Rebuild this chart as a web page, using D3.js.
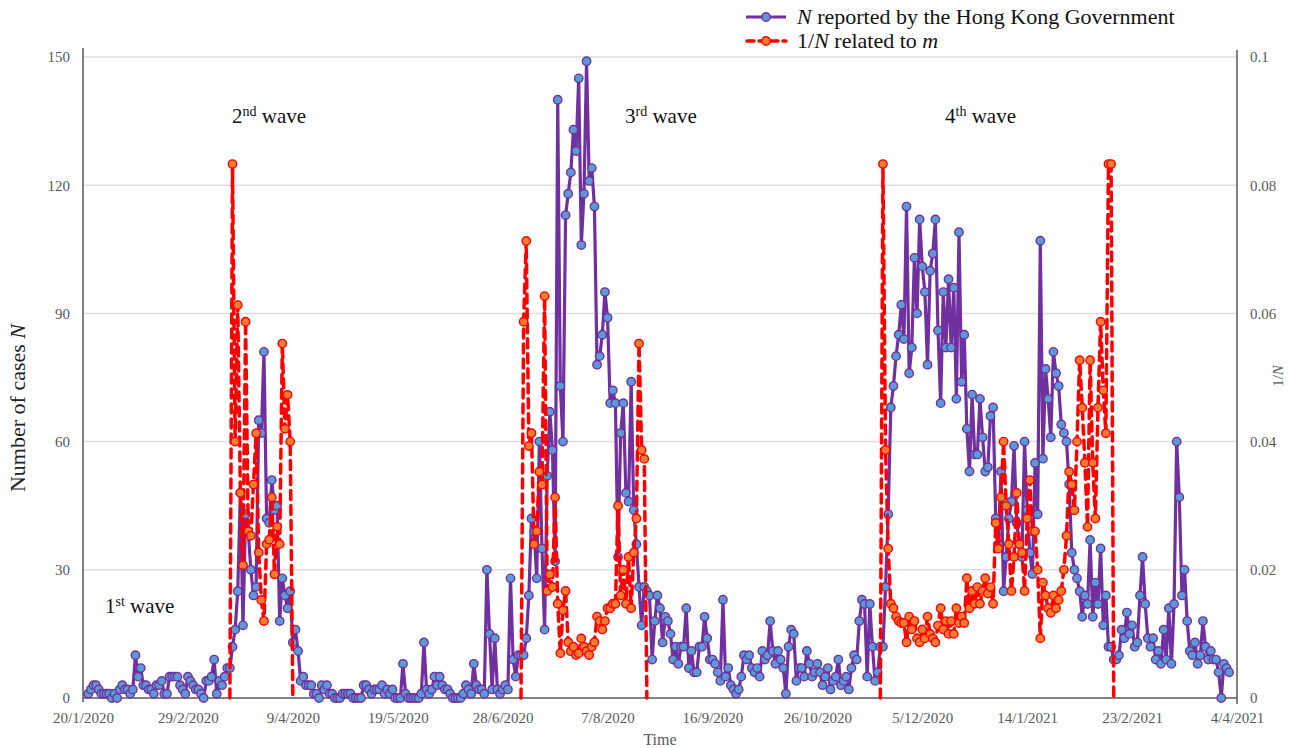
<!DOCTYPE html>
<html>
<head>
<meta charset="utf-8">
<script src="https://cdn.jsdelivr.net/npm/d3@7"></script>
<style>
  body { margin: 0; background: #fff; }
  svg { font-family: "Liberation Serif", "Times New Roman", serif; }
</style>
</head>
<body>
<svg id="chart" width="1293" height="748"></svg>
<script>
// daily cases N, first value is 22/1/2020
let casesStart = "22/1/2020"
let cases = [
  1,2,3,3,2,1,1,1,1,0,
  1,0,2,3,2,2,1,2,10,5,
  7,3,3,2,2,1,3,3,4,1,
  1,5,5,5,5,3,2,1,5,4,
  3,2,2,1,0,4,4,5,9,1,
  4,3,5,7,7,12,16,25,48,17,
  43,39,30,24,26,65,62,81,42,41,
  51,44,45,18,28,24,21,25,13,16,
  11,4,5,3,3,3,1,1,0,3,
  2,3,1,1,0,0,0,1,1,1,
  1,0,0,0,0,3,3,2,1,2,
  2,2,3,1,2,1,2,0,0,0,
  8,1,0,0,0,0,0,1,13,2,
  1,2,5,3,5,3,2,2,1,0,
  0,0,0,1,3,2,1,8,3,2,
  2,1,30,15,2,14,2,1,2,3,
  2,28,9,5,10,10,10,14,24,42,
  39,28,60,35,16,52,67,58,32,140,
  73,60,113,118,123,133,128,145,106,118,
  149,121,124,115,78,80,85,95,89,69,
  72,69,33,62,69,48,46,74,44,36,
  26,17,26,25,24,9,18,24,21,13,
  19,18,15,9,12,8,12,12,21,7,
  11,6,6,12,12,19,14,9,9,8,
  6,4,23,5,7,3,2,1,2,5,
  10,9,10,7,6,7,5,11,9,10,
  18,11,8,11,9,7,1,12,16,15,
  4,7,7,5,11,8,5,6,8,6,
  3,5,7,2,4,5,9,3,4,5,
  2,7,10,9,18,23,22,5,22,12,
  4,6,12,12,26,43,68,73,80,85,
  92,84,115,76,82,103,90,112,101,95,
  78,100,104,112,86,69,95,82,98,82,
  96,70,109,74,85,63,53,71,57,57,
  70,61,53,54,66,68,42,36,53,25,
  33,42,46,59,41,36,33,60,44,34,
  29,55,43,107,56,77,70,61,81,76,
  73,64,62,60,50,34,30,28,25,19,
  24,22,37,19,27,22,35,17,24,12,
  12,9,9,10,16,14,20,15,17,12,
  13,24,33,22,14,12,14,9,11,8,
  16,9,21,8,22,60,47,24,30,18,
  11,10,13,8,10,18,12,9,11,9,
  9,6,0,8,7,6
]

// 1/N related to m, one array per wave
let wave2Start = "16/3/2020"
let wave2Inv = [
  0,0.0833,0.04,0.0613,0.032,0.0207,0.0587,0.026,0.0253,0.0333,
  0.0413,0.0227,0.0153,0.012,0.024,0.0247,0.0313,0.0193,0.0267,0.024,
  0.0553,0.042,0.0473,0.04,0
]
let wave3Start = "5/7/2020"
let wave3Inv = [
  0,0.0587,0.0713,0.0393,0.0413,0.024,0.026,0.0353,0.0333,0.0627,
  0.0167,0.0193,0.0173,0.0313,0.0147,0.007,0.0137,0.0167,0.0087,0.0073,
  0.008,0.0067,0.007,0.0093,0.008,0.0073,0.0067,0.008,0.0087,0.0127,
  0.012,0.0107,0.012,0.014,0.014,0.0147,0.0147,0.03,0.016,0.02,
  0.0147,0.022,0.014,0.0227,0.028,0.0553,0.0387,0.0373,0
]
let wave4Start = "19/11/2020"
let wave4Inv = [
  0,0.0833,0.0387,0.0233,0.0147,0.014,0.0127,0.012,0.0117,0.0117,
  0.0087,0.0127,0.0107,0.012,0.0093,0.0087,0.0107,0.0093,0.0127,0.01,
  0.0093,0.0087,0.0113,0.014,0.0107,0.012,0.01,0.012,0.01,0.014,
  0.0117,0.0127,0.0117,0.0187,0.014,0.0167,0.0147,0.0173,0.0147,0.0167,
  0.0187,0.0163,0.0173,0.0147,0.0273,0.0233,0.0313,0.04,0.03,0.024,
  0.0167,0.022,0.032,0.024,0.0227,0.0167,0.028,0.034,0.026,0.026,
  0.02,0.0093,0.018,0.016,0.014,0.0133,0.016,0.014,0.0153,0.0167,
  0.02,0.0253,0.0353,0.0333,0.0293,0.04,0.0527,0.0453,0.0367,0.0267,
  0.0527,0.0367,0.028,0.0453,0.0587,0.048,0.0413,0.0833,0.0833,0
]

let leftTicks = [0, 30, 60, 90, 120, 150]
let rightTicks = [0, 0.02, 0.04, 0.06, 0.08, 0.1]
let dateTicks = ["20/1/2020","29/2/2020","9/4/2020","19/5/2020","28/6/2020","7/8/2020",
                 "16/9/2020","26/10/2020","5/12/2020","14/1/2021","23/2/2021","4/4/2021"]

let parse = d3.timeParse("%d/%m/%Y")

let toSeries = (start, values) => {
  let s = parse(start)
  return values.map((v, i) => ({ date: d3.timeDay.offset(s, i), v: v }))
}

let svg = d3.select('#chart')

let plotLeft = 83, plotRight = 1237, plotTop = 57, plotBottom = 698

let x = d3.scaleTime()
          .domain([parse(dateTicks[0]), parse(dateTicks[dateTicks.length - 1])])
          .range([plotLeft, plotRight])
let y = d3.scaleLinear().domain([0, 150]).range([plotBottom, plotTop])
let y2 = d3.scaleLinear().domain([0, 0.1]).range([plotBottom, plotTop])

// gridlines
svg.append('g')
   .selectAll('line')
   .data(leftTicks.filter(t => t > 0))
   .enter()
   .append('line')
   .attr('x1', plotLeft).attr('x2', plotRight)
   .attr('y1', d => y(d)).attr('y2', d => y(d))
   .attr('stroke', '#dedede').attr('stroke-width', 1.5)

// axes (labels only, lines drawn by hand below)
let styleAxis = (g) => {
  g.attr('font-family', null).attr('font-size', null)
  g.select('.domain').remove()
  g.selectAll('line').remove()
  g.selectAll('text')
   .attr('fill', '#595959')
   .style('font-size', '15px')
   .style('font-family', 'Liberation Serif')
}

svg.append('g')
   .attr('transform', 'translate(' + plotLeft + ',0)')
   .call(d3.axisLeft(y).tickValues(leftTicks).tickSize(0).tickPadding(13))
   .call(styleAxis)

svg.append('g')
   .attr('transform', 'translate(' + plotRight + ',0)')
   .call(d3.axisRight(y2).tickValues(rightTicks).tickSize(0).tickPadding(13)
           .tickFormat(d => d === 0 ? '0' : String(+d.toFixed(2))))
   .call(styleAxis)

svg.append('g')
   .attr('transform', 'translate(0,' + plotBottom + ')')
   .call(d3.axisBottom(x).tickValues(dateTicks.map(parse)).tickSize(0).tickPadding(14)
           .tickFormat(d3.timeFormat('%-d/%-m/%Y')))
   .call(styleAxis)

// axis lines
svg.append('line').attr('x1', plotLeft).attr('x2', plotLeft).attr('y1', 48).attr('y2', 702)
   .attr('stroke', '#7f7f7f').attr('stroke-width', 2)
svg.append('line').attr('x1', plotRight).attr('x2', plotRight).attr('y1', 50).attr('y2', 704)
   .attr('stroke', '#595959').attr('stroke-width', 1.5)
svg.append('line').attr('x1', plotLeft).attr('x2', plotRight).attr('y1', plotBottom).attr('y2', plotBottom)
   .attr('stroke', '#595959').attr('stroke-width', 1.5)

// N series
let nData = toSeries(casesStart, cases)

let nLine = d3.line().x(d => x(d.date)).y(d => y(d.v))

svg.append('path')
   .datum(nData)
   .attr('d', nLine)
   .attr('fill', 'none')
   .attr('stroke', '#7030a0')
   .attr('stroke-width', 3.2)
   .attr('stroke-linejoin', 'round')

svg.append('g')
   .selectAll('circle')
   .data(nData)
   .enter()
   .append('circle')
   .attr('cx', d => x(d.date))
   .attr('cy', d => y(d.v))
   .attr('r', 4.2)
   .attr('fill', '#5b9bd5')
   .attr('stroke', '#7030a0')
   .attr('stroke-width', 1.4)

// 1/N series
let invLine = d3.line().x(d => x(d.date)).y(d => y2(d.v))

let waves = [toSeries(wave2Start, wave2Inv), toSeries(wave3Start, wave3Inv), toSeries(wave4Start, wave4Inv)]

waves.forEach(w => {
  svg.append('path')
     .datum(w)
     .attr('d', invLine)
     .attr('fill', 'none')
     .attr('stroke', '#ff0000')
     .attr('stroke-width', 3.5)
     .attr('stroke-dasharray', '9,6')
     .attr('stroke-linecap', 'round')
     .attr('stroke-linejoin', 'round')
})

waves.forEach(w => {
  svg.append('g')
     .selectAll('circle')
     .data(w.filter(d => d.v > 0))
     .enter()
     .append('circle')
     .attr('cx', d => x(d.date))
     .attr('cy', d => y2(d.v))
     .attr('r', 4.2)
     .attr('fill', '#ed7d31')
     .attr('stroke', '#ff0000')
     .attr('stroke-width', 1.4)
})

// wave labels
let waveText = [
  { n: '1', sup: 'st', x: 105, y: 613 },
  { n: '2', sup: 'nd', x: 232, y: 123 },
  { n: '3', sup: 'rd', x: 625, y: 123 },
  { n: '4', sup: 'th', x: 945, y: 123 }
]
waveText.forEach(w => {
  let t = svg.append('text').attr('x', w.x).attr('y', w.y)
             .style('font-size', '21px').attr('fill', '#111')
  t.append('tspan').text(w.n)
  t.append('tspan').text(w.sup).attr('dy', -7).style('font-size', '14px')
  t.append('tspan').text(' wave').attr('dy', 7)
})

// axis titles
let yTitle = svg.append('text')
   .attr('transform', 'translate(25,408) rotate(-90)')
   .attr('text-anchor', 'middle')
   .style('font-size', '22px')
   .attr('fill', '#222')
yTitle.append('tspan').text('Number of cases ')
yTitle.append('tspan').text('N').style('font-style', 'italic')

let y2Title = svg.append('text')
   .attr('transform', 'translate(1283,376) rotate(-90)')
   .attr('text-anchor', 'middle')
   .style('font-size', '15px')
   .attr('fill', '#595959')
y2Title.append('tspan').text('1/')
y2Title.append('tspan').text('N').style('font-style', 'italic')

svg.append('text')
   .attr('x', 660).attr('y', 745)
   .attr('text-anchor', 'middle')
   .style('font-size', '16px')
   .attr('fill', '#595959')
   .text('Time')

// legend
let lg = svg.append('g')
lg.append('line').attr('x1', 746).attr('x2', 786).attr('y1', 17).attr('y2', 17)
  .attr('stroke', '#7030a0').attr('stroke-width', 3.2)
lg.append('circle').attr('cx', 766).attr('cy', 17).attr('r', 4.2)
  .attr('fill', '#5b9bd5').attr('stroke', '#7030a0').attr('stroke-width', 1.4)
let t1 = lg.append('text').attr('x', 797).attr('y', 24).style('font-size', '22px').attr('fill', '#111')
t1.append('tspan').text('N').style('font-style', 'italic')
t1.append('tspan').text(' reported by the Hong Kong Government')

lg.append('line').attr('x1', 747).attr('x2', 786).attr('y1', 41).attr('y2', 41)
  .attr('stroke', '#ff0000').attr('stroke-width', 3.5)
  .attr('stroke-dasharray', '7,5').attr('stroke-linecap', 'round')
lg.append('circle').attr('cx', 766).attr('cy', 41).attr('r', 4.2)
  .attr('fill', '#ed7d31').attr('stroke', '#ff0000').attr('stroke-width', 1.4)
let t2 = lg.append('text').attr('x', 797).attr('y', 48).style('font-size', '22px').attr('fill', '#111')
t2.append('tspan').text('1/')
t2.append('tspan').text('N').style('font-style', 'italic')
t2.append('tspan').text(' related to ')
t2.append('tspan').text('m').style('font-style', 'italic')
</script>
</body>
</html>
